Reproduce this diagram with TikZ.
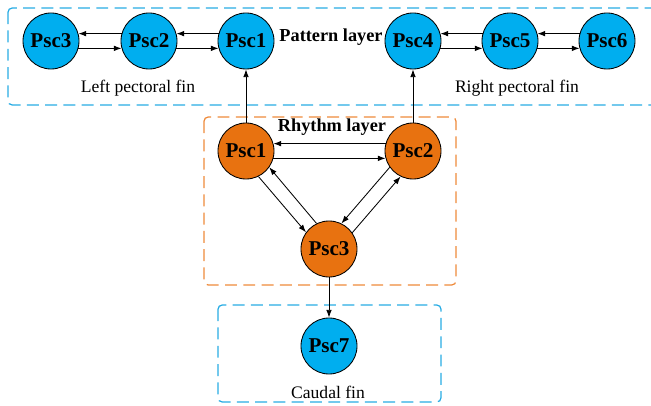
\documentclass[tikz,border=0pt]{standalone}
\usepackage{fontspec}
\setmainfont{Liberation Serif}
\usetikzlibrary{arrows.meta}

\definecolor{finblue}{RGB}{0,174,239}
\definecolor{rhyorange}{RGB}{232,114,16}
\definecolor{boxblue}{RGB}{40,172,228}
\definecolor{boxorange}{RGB}{238,138,58}

\tikzset{
    osc/.style={circle, draw, line width=0.6pt, minimum size=1.4cm, inner sep=0pt,
        font=\fontsize{15}{17}\selectfont\bfseries},
    fincell/.style={osc, fill=finblue},
    cpgcell/.style={osc, fill=rhyorange},
    link/.style={-{Latex[length=5.5pt,width=4pt]}, line width=0.6pt},
    layerbox/.style={dashed, dash pattern=on 8.5pt off 4.5pt, line width=0.9pt, rounded corners=3pt},
    lbl/.style={font=\fontsize{12.5}{14}\selectfont},
    title/.style={font=\fontsize{13}{15}\selectfont\bfseries}
}

\begin{document}
\begin{tikzpicture}[x=0.025cm, y=-0.025cm]
    \clip (0,0) rectangle (651,406);

    % 虚线框：图案层、节律层、尾鳍
    \draw[layerbox, boxblue] (8,8) rectangle (670,105);
    \draw[layerbox, boxorange] (204,117) rectangle (456,285);
    \draw[layerbox, boxblue] (218,305) rectangle (441,402);

    % 左胸鳍振荡器
    \node[fincell] (pL3) at (51,41) {Psc3};
    \node[fincell] (pL2) at (149,41) {Psc2};
    \node[fincell] (pL1) at (246,41) {Psc1};

    % 右胸鳍振荡器
    \node[fincell] (pR4) at (413,41) {Psc4};
    \node[fincell] (pR5) at (510,41) {Psc5};
    \node[fincell] (pR6) at (607,41) {Psc6};

    % 节律层振荡器
    \node[cpgcell] (r1) at (246,151) {Psc1};
    \node[cpgcell] (r2) at (413,151) {Psc2};
    \node[cpgcell] (r3) at (329,249) {Psc3};

    % 尾鳍振荡器
    \node[fincell] (c7) at (329,346) {Psc7};

    % 标注
    \node[title] (tPat) at (331,37) {Pattern layer};
    \node[title] (tRhy) at (332,127) {Rhythm layer};
    \node[lbl] (tLeft) at (138,88) {Left pectoral fin};
    \node[lbl] (tRight) at (517,88) {Right pectoral fin};
    \node[lbl] (tCaud) at (328,392) {Caudal fin};

    % 左胸鳍链
    \draw[link] (pL2.165) -- (pL3.15);
    \draw[link] (pL3.-15) -- (pL2.195);
    \draw[link] (pL1.165) -- (pL2.15);
    \draw[link] (pL2.-15) -- (pL1.195);

    % 右胸鳍链
    \draw[link] (pR5.165) -- (pR4.15);
    \draw[link] (pR4.-15) -- (pR5.195);
    \draw[link] (pR6.165) -- (pR5.15);
    \draw[link] (pR5.-15) -- (pR6.195);

    % 节律层内部耦合
    \draw[link] (r2.165) -- (r1.15);
    \draw[link] (r1.-15) -- (r2.195);
    \draw[link] (r1.-64) -- (r3.144);
    \draw[link] (r3.116) -- (r1.-35);
    \draw[link] (r2.-145) -- (r3.64);
    \draw[link] (r3.35) -- (r2.-116);

    % 节律层到各鳍
    \draw[link] (r1.north) -- (pL1.south);
    \draw[link] (r2.north) -- (pR4.south);
    \draw[link] (r3.south) -- (c7.north);
\end{tikzpicture}
\end{document}
